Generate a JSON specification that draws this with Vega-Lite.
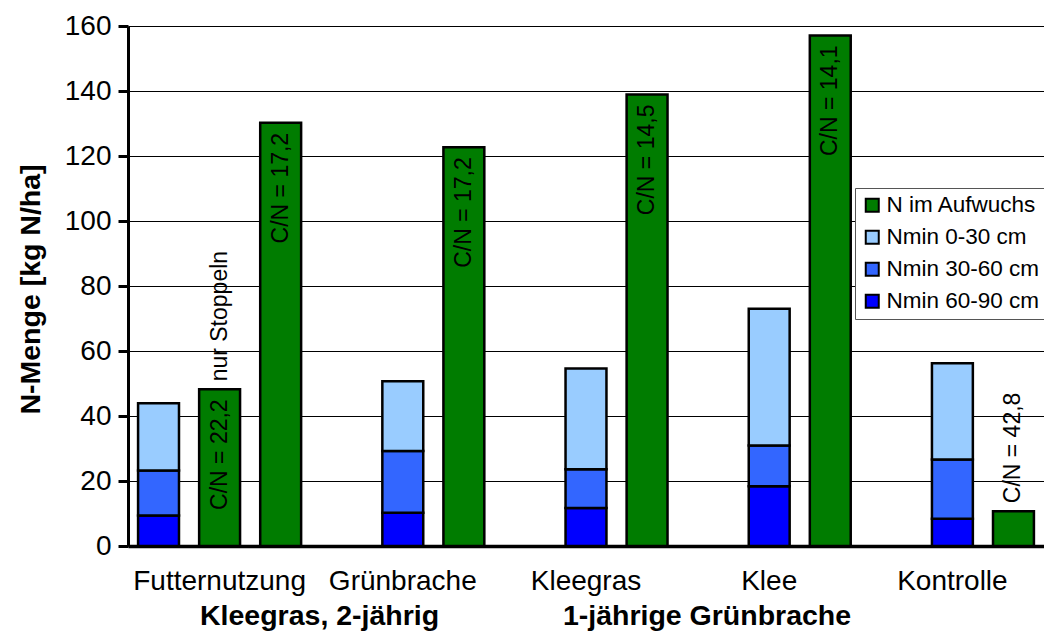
{
  "$schema": "https://vega.github.io/schema/vega-lite/v6.json",
  "width": 916,
  "height": 520,
  "autosize": {"type": "none"},
  "padding": {"left": 128, "top": 26, "right": 0, "bottom": 91},
  "background": "white",
  "datasets": {
    "nmin": [
      {"cat": "Futternutzung", "slot": "A", "comp": "Nmin 60-90 cm", "v": 9.4},
      {"cat": "Futternutzung", "slot": "A", "comp": "Nmin 30-60 cm", "v": 13.8},
      {"cat": "Futternutzung", "slot": "A", "comp": "Nmin 0-30 cm", "v": 20.7},
      {"cat": "Grünbrache", "slot": "B", "comp": "Nmin 60-90 cm", "v": 10.2},
      {"cat": "Grünbrache", "slot": "B", "comp": "Nmin 30-60 cm", "v": 19.0},
      {"cat": "Grünbrache", "slot": "B", "comp": "Nmin 0-30 cm", "v": 21.5},
      {"cat": "Kleegras", "slot": "B", "comp": "Nmin 60-90 cm", "v": 11.7},
      {"cat": "Kleegras", "slot": "B", "comp": "Nmin 30-60 cm", "v": 11.9},
      {"cat": "Kleegras", "slot": "B", "comp": "Nmin 0-30 cm", "v": 31.0},
      {"cat": "Klee", "slot": "B", "comp": "Nmin 60-90 cm", "v": 18.4},
      {"cat": "Klee", "slot": "B", "comp": "Nmin 30-60 cm", "v": 12.5},
      {"cat": "Klee", "slot": "B", "comp": "Nmin 0-30 cm", "v": 42.1},
      {"cat": "Kontrolle", "slot": "B", "comp": "Nmin 60-90 cm", "v": 8.4},
      {"cat": "Kontrolle", "slot": "B", "comp": "Nmin 30-60 cm", "v": 18.2},
      {"cat": "Kontrolle", "slot": "B", "comp": "Nmin 0-30 cm", "v": 29.6}
    ],
    "green": [
      {"cat": "Futternutzung", "slot": "B", "comp": "N im Aufwuchs", "v": 48.2},
      {"cat": "Futternutzung", "slot": "C", "comp": "N im Aufwuchs", "v": 130.2},
      {"cat": "Grünbrache", "slot": "C", "comp": "N im Aufwuchs", "v": 122.7},
      {"cat": "Kleegras", "slot": "C", "comp": "N im Aufwuchs", "v": 138.9},
      {"cat": "Klee", "slot": "C", "comp": "N im Aufwuchs", "v": 157.1},
      {"cat": "Kontrolle", "slot": "C", "comp": "N im Aufwuchs", "v": 10.7}
    ],
    "labels": [
      {"cat": "Futternutzung", "slot": "B", "v": 48.2, "text": "C/N = 22,2", "pos": "in"},
      {"cat": "Futternutzung", "slot": "B", "v": 48.2, "text": "nur Stoppeln", "pos": "out"},
      {"cat": "Futternutzung", "slot": "C", "v": 130.2, "text": "C/N = 17,2", "pos": "in"},
      {"cat": "Grünbrache", "slot": "C", "v": 122.7, "text": "C/N = 17,2", "pos": "in"},
      {"cat": "Kleegras", "slot": "C", "v": 138.9, "text": "C/N = 14,5", "pos": "in"},
      {"cat": "Klee", "slot": "C", "v": 157.1, "text": "C/N = 14,1", "pos": "in"},
      {"cat": "Kontrolle", "slot": "C", "v": 10.7, "text": "C/N = 42,8", "pos": "out"}
    ]
  },
  "encoding": {
    "x": {
      "field": "cat",
      "type": "nominal",
      "sort": ["Futternutzung", "Grünbrache", "Kleegras", "Klee", "Kontrolle"],
      "scale": {"paddingInner": 0, "paddingOuter": 0},
      "axis": {
        "title": null,
        "labelAngle": 0,
        "labelFont": "Liberation Sans",
        "labelFontSize": 28,
        "labelColor": "black",
        "labelPadding": 21,
        "ticks": false,
        "domainColor": "black",
        "domainWidth": 3.5,
        "grid": false
      }
    }
  },
  "layer": [
    {
      "data": {"name": "nmin"},
      "mark": {"type": "bar", "stroke": "black", "strokeWidth": 2.5},
      "encoding": {
        "xOffset": {"field": "slot", "type": "nominal", "scale": {"domain": ["A", "B", "C"], "paddingInner": 0.33, "paddingOuter": 0.165}},
        "y": {
          "field": "v",
          "type": "quantitative",
          "stack": "zero",
          "scale": {"domain": [0, 160], "nice": false},
          "axis": {
            "title": "N-Menge [kg N/ha]",
            "titleFont": "Liberation Sans",
            "titleFontSize": 28.5,
            "titleFontWeight": "bold",
            "titleColor": "black",
            "titleAngle": 270,
            "titleAlign": "center",
            "titleBaseline": "middle",
            "titleX": -98,
            "titleY": 263,
            "values": [0, 20, 40, 60, 80, 100, 120, 140, 160],
            "labelFont": "Liberation Sans",
            "labelFontSize": 28,
            "labelColor": "black",
            "labelPadding": 7,
            "tickSize": 10,
            "tickWidth": 3,
            "tickColor": "black",
            "domainColor": "black",
            "domainWidth": 3,
            "grid": true,
            "gridColor": "black",
            "gridWidth": 1,
            "gridOpacity": 1
          }
        },
        "color": {
          "field": "comp",
          "type": "nominal",
          "scale": {
            "domain": ["N im Aufwuchs", "Nmin 0-30 cm", "Nmin 30-60 cm", "Nmin 60-90 cm"],
            "range": ["#007C00", "#99CCFF", "#3366FF", "#0000FF"]
          },
          "legend": {
            "title": null,
            "orient": "none",
            "legendX": 727,
            "legendY": 162,
            "fillColor": "white",
            "strokeColor": "#555555",
            "padding": 6,
            "symbolType": "square",
            "symbolSize": 169,
            "symbolStrokeColor": "black",
            "symbolStrokeWidth": 2,
            "symbolOpacity": 1,
            "labelFont": "Liberation Sans",
            "labelFontSize": 22.5,
            "labelColor": "black",
            "labelOffset": 3,
            "rowPadding": 9
          }
        },
        "order": {"field": "comp", "sort": "descending"}
      }
    },
    {
      "data": {"name": "green"},
      "mark": {"type": "bar", "stroke": "black", "strokeWidth": 2.5},
      "encoding": {
        "xOffset": {"field": "slot", "type": "nominal"},
        "y": {"field": "v", "type": "quantitative", "stack": null},
        "color": {"field": "comp", "type": "nominal"}
      }
    },
    {
      "data": {"name": "labels"},
      "transform": [{"filter": "datum.pos === 'in'"}],
      "mark": {"type": "text", "angle": 270, "align": "right", "baseline": "middle", "dx": -10, "font": "Liberation Sans", "fontSize": 23, "color": "black"},
      "encoding": {
        "xOffset": {"field": "slot", "type": "nominal"},
        "y": {"field": "v", "type": "quantitative"},
        "text": {"field": "text"}
      }
    },
    {
      "data": {"name": "labels"},
      "transform": [{"filter": "datum.pos === 'out'"}],
      "mark": {"type": "text", "angle": 270, "align": "left", "baseline": "middle", "dx": 8, "font": "Liberation Sans", "fontSize": 23, "color": "black"},
      "encoding": {
        "xOffset": {"field": "slot", "type": "nominal"},
        "y": {"field": "v", "type": "quantitative"},
        "text": {"field": "text"}
      }
    },
    {
      "data": {"values": [{"cat": "Futternutzung", "text": "Kleegras, 2-jährig"}]},
      "mark": {"type": "text", "align": "center", "baseline": "alphabetic", "dx": 100, "dy": 79, "font": "Liberation Sans", "fontSize": 28.5, "fontWeight": "bold", "color": "black"},
      "encoding": {
        "y": {"datum": 0, "type": "quantitative"},
        "text": {"field": "text"}
      }
    },
    {
      "data": {"values": [{"cat": "Kleegras", "text": "1-jährige Grünbrache"}]},
      "mark": {"type": "text", "align": "center", "baseline": "alphabetic", "dx": 121, "dy": 79, "font": "Liberation Sans", "fontSize": 28.5, "fontWeight": "bold", "color": "black"},
      "encoding": {
        "y": {"datum": 0, "type": "quantitative"},
        "text": {"field": "text"}
      }
    }
  ],
  "config": {
    "view": {"stroke": null},
    "font": "Liberation Sans"
  }
}
